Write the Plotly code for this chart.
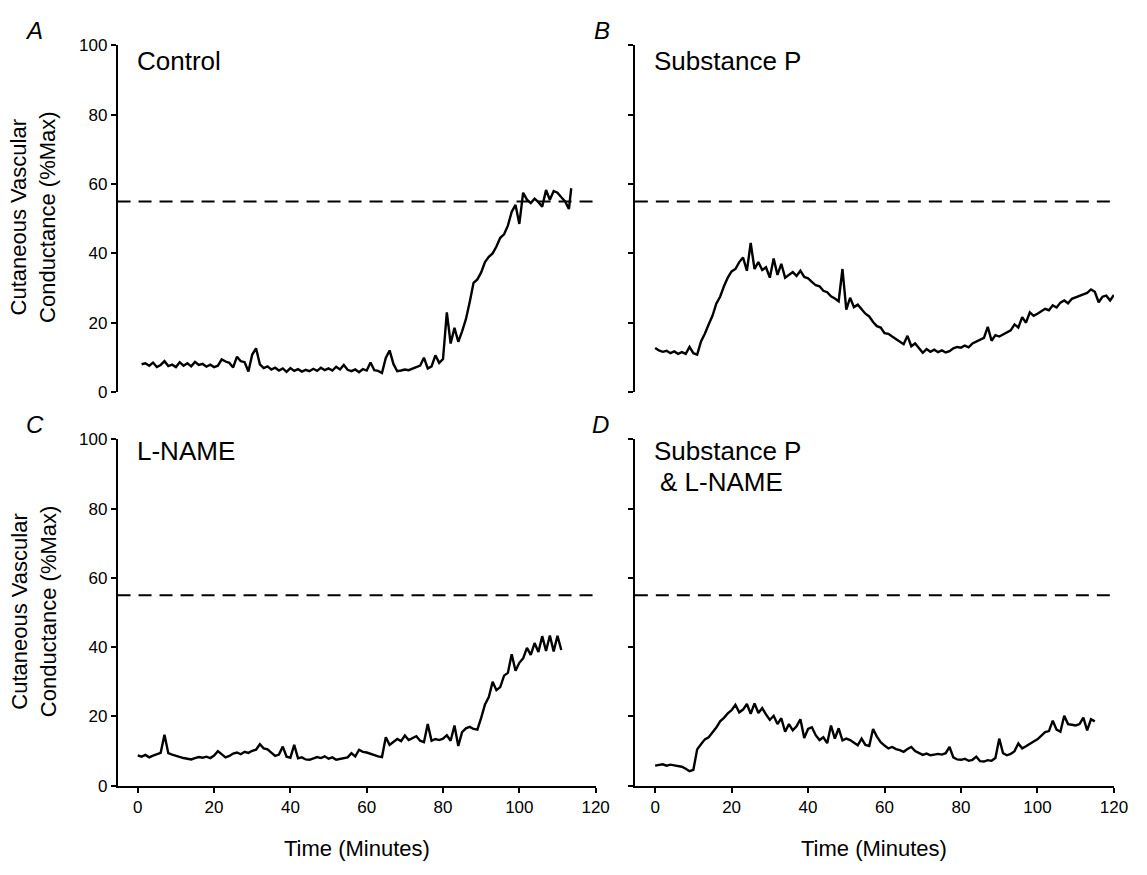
import plotly.graph_objects as go

# ---------------- data ----------------
threshold = 55

a_time = list(range(1, 114)) + [113.6]
a_cvc = [8.0, 8.3, 7.6, 8.5, 7.2, 7.8, 8.9, 7.5, 7.9, 7.2,
         8.6, 7.6, 8.3, 7.4, 8.7, 7.8, 8.1, 7.3, 7.9, 7.2,
         7.6, 9.4, 8.8, 8.4, 7.1, 10.2, 8.9, 8.6, 5.9, 10.8,
         12.6, 8.0, 6.9, 7.4, 6.5, 7.0, 6.2, 6.8, 5.8, 6.9,
         6.1, 6.6, 5.9, 6.4, 6.0, 6.7, 6.1, 7.0, 6.3, 6.8,
         6.2, 7.3, 6.5, 7.8, 6.4, 6.0, 6.5, 5.7, 6.6, 6.2,
         8.5, 6.3, 6.1, 5.5, 9.8, 12.0, 8.1, 6.0, 6.2, 6.5,
         6.3, 6.8, 7.2, 7.6, 9.9, 6.8, 7.4, 10.6, 8.4, 9.5,
         23.0, 14.0, 18.5, 14.5, 17.5, 21.0, 26.0, 31.5, 32.5, 34.5,
         37.5, 39.0, 40.0, 42.0, 44.5, 45.5, 48.0, 52.0, 54.0, 48.5,
         57.5, 55.5, 54.5, 55.8, 54.8, 53.5, 58.3, 55.5, 58.0, 57.5,
         56.2, 55.0, 52.8, 58.8]

b_time = list(range(0, 121))
b_cvc = [12.7, 12.0, 11.6, 11.9, 11.2, 11.7, 11.0, 11.5, 11.0, 13.0,
         11.2, 10.8, 14.6, 16.8, 19.5, 22.0, 25.5, 27.5, 30.5, 33.0,
         34.8, 35.5, 37.5, 38.8, 35.0, 43.0, 35.5, 37.5, 35.2, 36.0,
         33.0, 38.5, 33.8, 37.0, 33.0, 33.8, 34.6, 33.5, 35.0, 33.2,
         32.8, 31.8, 30.8, 30.5, 29.2, 28.8, 27.6, 27.0, 26.2, 35.5,
         23.8, 27.2, 24.5, 25.2, 23.8, 22.6, 21.8, 20.2, 19.0, 18.6,
         17.0, 16.8, 16.0, 15.2, 14.4, 13.8, 16.2, 13.2, 14.0, 12.6,
         11.3, 12.4, 11.6, 12.2, 11.5, 12.0, 11.4, 11.8, 12.6, 13.0,
         12.8, 13.4, 12.9, 14.0, 14.5, 15.2, 15.6, 18.8, 14.8, 16.4,
         16.0, 16.6, 17.3, 17.8, 19.5, 18.6, 21.6, 20.0, 23.0, 22.0,
         22.6, 23.2, 24.0, 23.6, 25.0, 24.4, 25.8, 26.4, 25.6, 26.9,
         27.4, 27.8, 28.2, 28.6, 29.6, 28.9, 25.9, 27.5, 27.8, 26.4,
         28.0]

c_time = list(range(0, 112))
c_cvc = [8.8, 8.4, 8.9, 8.2, 8.7, 9.0, 9.5, 14.7, 9.4, 9.0,
         8.6, 8.3, 8.0, 7.8, 7.6, 8.0, 8.3, 8.1, 8.4, 8.0,
         8.7, 10.0, 9.0, 8.2, 8.6, 9.3, 9.6, 9.1, 9.8, 9.5,
         10.1, 10.4, 12.0, 10.8, 10.5, 9.4, 8.6, 9.0, 11.3, 8.4,
         8.1, 11.8, 7.9, 8.2, 7.6, 7.5, 7.9, 8.3, 8.0, 8.5,
         7.8, 8.2, 7.5, 7.8, 8.0, 8.2, 9.4, 8.5, 10.4, 9.8,
         9.6, 9.2, 8.8, 8.5, 8.3, 14.0, 11.8, 12.6, 13.5, 12.9,
         14.5, 13.2, 13.8, 14.3, 13.0, 12.6, 17.8, 13.0, 13.5, 13.2,
         13.6, 14.6, 13.0, 17.4, 11.5, 15.5, 16.6, 17.0, 16.4, 16.2,
         19.6, 23.5, 25.6, 30.0, 27.6, 28.5, 31.8, 32.6, 38.0, 33.2,
         35.5, 36.8, 39.8, 37.8, 41.2, 38.6, 43.2, 38.9, 43.4, 38.8,
         43.3, 39.2]

d_time = list(range(0, 116))
d_cvc = [5.8, 5.9, 6.2, 5.8, 6.1, 5.9, 5.6, 5.5, 4.9, 4.2,
         4.6, 10.5, 12.0, 13.4, 14.0, 15.4, 16.8, 18.6, 19.6, 20.9,
         21.8, 23.4, 21.2, 22.0, 23.6, 20.8, 23.8, 21.0, 22.4, 20.6,
         19.0, 20.2, 17.8, 19.5, 15.6, 17.8, 16.0, 17.2, 19.2, 13.8,
         16.4, 16.9, 14.6, 13.2, 14.0, 12.3, 17.4, 13.6, 16.6, 13.1,
         13.6, 13.2, 12.5, 11.7, 13.6, 11.8, 11.5, 16.4, 14.2, 12.6,
         11.6, 10.8, 11.2, 10.6, 10.3, 9.8, 10.6, 11.2, 10.0, 9.4,
         8.9, 9.3, 8.8, 9.0, 9.2, 9.0, 9.4, 11.2, 8.2, 7.6,
         7.5, 7.8, 7.2, 7.5, 8.4, 7.1, 7.0, 7.4, 7.2, 8.0,
         13.6, 9.4, 8.8, 9.2, 10.0, 12.2, 10.8, 11.4, 12.2, 12.8,
         13.4, 14.6, 15.5, 15.8, 18.8, 16.2, 15.6, 20.2, 17.8, 17.6,
         17.4, 17.8, 19.7, 16.0, 19.2, 18.6]

panel_letters = ["A", "B", "C", "D"]
panel_titles = ["Control", "Substance P", "L-NAME", "Substance P", "& L-NAME"]
y_ticks = [0, 20, 40, 60, 80, 100]
x_ticks = [0, 20, 40, 60, 80, 100, 120]
y_title = "Cutaneous Vascular<br>Conductance (%Max)"
x_title = "Time (Minutes)"

# ---------------- figure ----------------
W, H = 1147, 875
FONT = "Liberation Sans, Arial, Helvetica, sans-serif"


def px(x):
    return x / W


def py(y):
    return 1 - y / H


fig = go.Figure()
series = [(a_time, a_cvc, "x", "y"), (b_time, b_cvc, "x2", "y2"),
          (c_time, c_cvc, "x3", "y3"), (d_time, d_cvc, "x4", "y4")]
for t, v, xa, ya in series:
    fig.add_trace(go.Scatter(x=t, y=v, xaxis=xa, yaxis=ya, mode="lines",
                             line=dict(color="black", width=2.4),
                             showlegend=False, hoverinfo="skip"))

xdom_left = [px(119), px(603)]
xdom_right = [px(642.7), px(1127.7)]
ydom_top = [py(391.5), py(37.3)]
ydom_bot = [py(794), py(440)]

axis_common = dict(showgrid=False, zeroline=False, showline=True,
                   linecolor="black", linewidth=1.6, ticks="outside",
                   ticklen=5, tickwidth=1.6, tickcolor="black",
                   tickfont=dict(family=FONT, size=17, color="black"))

xrange_ = [-5.3, 120]
layout = dict(
    width=W, height=H, margin=dict(l=0, r=0, t=0, b=0),
    paper_bgcolor="white", plot_bgcolor="white",
    font=dict(family=FONT, color="black"),
    xaxis=dict(domain=xdom_left, range=xrange_, anchor="y", visible=False),
    xaxis2=dict(domain=xdom_right, range=xrange_, anchor="y2", visible=False),
    xaxis3=dict(domain=xdom_left, range=xrange_, anchor="y3",
                tickvals=x_ticks, **axis_common),
    xaxis4=dict(domain=xdom_right, range=xrange_, anchor="y4",
                tickvals=x_ticks, **axis_common),
    yaxis=dict(domain=ydom_top, range=[0, 100], anchor="x",
               tickvals=y_ticks, **axis_common),
    yaxis2=dict(domain=ydom_top, range=[0, 100], anchor="x2",
                tickvals=y_ticks, showticklabels=False, **axis_common),
    yaxis3=dict(domain=ydom_bot, range=[0, 100], anchor="x3",
                tickvals=y_ticks, **axis_common),
    yaxis4=dict(domain=ydom_bot, range=[0, 100], anchor="x4",
                tickvals=y_ticks, showticklabels=False, **axis_common),
)
fig.update_layout(**layout)

# dashed reference line at 55 %Max
for xa, ya in [("x", "y"), ("x2", "y2"), ("x3", "y3"), ("x4", "y4")]:
    fig.add_shape(type="line", xref=f"{xa} domain", yref=ya,
                  x0=0, x1=1, y0=threshold, y1=threshold,
                  line=dict(color="black", width=2, dash="13px,8px"))

ann = []
# panel letters
for letter, (x, y) in zip(panel_letters, [(34, 22), (609, 22), (35, 425), (608, 425)]):
    ann.append(dict(text=f"<i>{letter}</i>", x=px(x), y=py(y), xref="paper", yref="paper",
                    showarrow=False, xanchor="center", yanchor="middle",
                    font=dict(family=FONT, size=24, color="black")))
# panel titles
for title, (x, y) in zip(panel_titles, [(137, 53), (660, 53), (137, 452), (660, 452), (666, 483)]):
    ann.append(dict(text=title, x=px(x), y=py(y), xref="paper", yref="paper",
                    showarrow=False, xanchor="left", yanchor="middle",
                    font=dict(family=FONT, size=26, color="black")))
# y axis titles
for yc in [213, 616]:
    ann.append(dict(text=y_title, x=px(34), y=py(yc), xref="paper", yref="paper",
                    showarrow=False, xanchor="center", yanchor="middle", textangle=-90,
                    font=dict(family=FONT, size=22, color="black")))
# x axis titles
for xc in [361, 885]:
    ann.append(dict(text=x_title, x=px(xc), y=py(858), xref="paper", yref="paper",
                    showarrow=False, xanchor="center", yanchor="middle",
                    font=dict(family=FONT, size=22, color="black")))
fig.update_layout(annotations=ann)

fig.write_html("out.html")
